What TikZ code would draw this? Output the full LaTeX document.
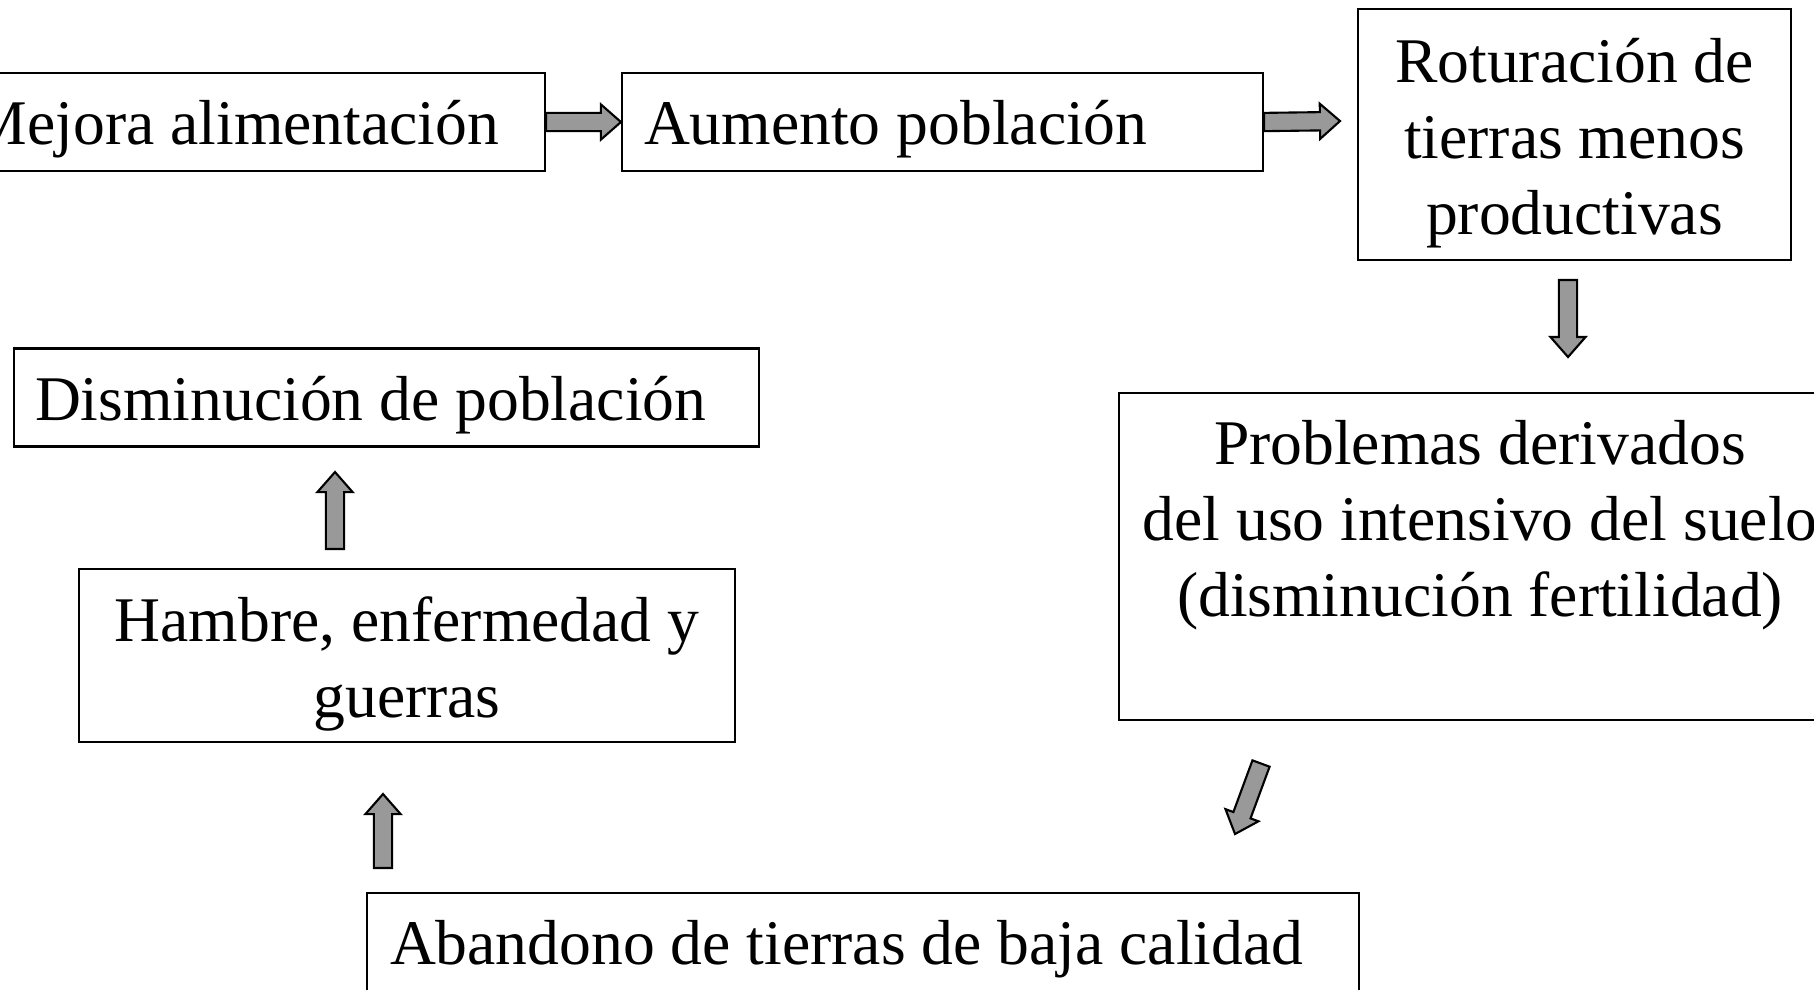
\documentclass[tikz,border=0pt]{standalone}
\usepackage{fontspec}
\setmainfont{Liberation Serif}
\usetikzlibrary{calc}
\definecolor{grisflecha}{RGB}{153,153,153}

\begin{document}
\begin{tikzpicture}[
	caja/.style={draw, line width=0.6pt, inner ysep=0pt, font=\fontsize{18.1}{21.6}\selectfont},
	cajaizq/.style={caja, align=flush left, inner xsep=0.22cm, minimum height=0.98cm, text height=0.6cm, text depth=0.15cm},
	cajacentro/.style={caja, align=center, inner xsep=0.1cm},
	flecha/.style={draw=black, fill=grisflecha, line width=0.6pt, line join=miter,
		to path={let \p1=(\tikztostart), \p2=(\tikztotarget),
			\n1={atan2(\y2-\y1,\x2-\x1)}, \n2={veclen(\x2-\x1,\y2-\y1)-\HL pt} in
			($(\p1)+(\n1+90:\SW pt)$) -- ($(\p1)+(\n1:\n2)+(\n1+90:\SW pt)$)
			-- ($(\p1)+(\n1:\n2)+(\n1+90:\HW pt)$) -- (\p2)
			-- ($(\p1)+(\n1:\n2)+(\n1-90:\HW pt)$) -- ($(\p1)+(\n1:\n2)+(\n1-90:\SW pt)$)
			-- ($(\p1)+(\n1-90:\SW pt)$) -- cycle}}]
				\pgfmathsetmacro\SW{2.6}
				\pgfmathsetmacro\HW{5.0}
				\pgfmathsetmacro\HL{5.7}
				\clip (0,0) rectangle (18.14,-9.89);

				\node[cajaizq, text width=5.52cm] (mejora) at (2.47,-1.22) {Mejora alimentación};
				\node[cajaizq, text width=5.97cm] (aumento) at (9.425,-1.22) {Aumento población};
				\node[cajacentro, minimum width=4.33cm, minimum height=2.51cm] (rot) at (15.745,-1.345)
					{\rule{0pt}{0.62cm}Roturación de\\tierras menos\\productivas};
				\node[cajacentro, minimum width=7.22cm, minimum height=3.27cm] (prob) at (14.80,-5.565)
					{Problemas derivados\\del uso intensivo del suelo\\(disminución fertilidad)\\\mbox{}};
				\node[cajaizq, inner xsep=0.23cm, text width=9.46cm] (aband) at (8.63,-9.42)
					{Abandono de tierras de baja calidad};
				\node[cajacentro, minimum width=6.56cm, minimum height=1.73cm] (hambre) at (4.07,-6.555)
					{\rule{0pt}{0.62cm}Hambre, enfermedad y\\guerras};
				\node[cajaizq, inner xsep=0.21cm, text width=7.03cm] (dismin) at (3.865,-3.975)
					{Disminución de población};

				\coordinate (f2b) at (13.40,-1.21);
				\coordinate (f3a) at (15.68,-2.80);
				\coordinate (f3b) at (15.68,-3.57);
				\coordinate (f4a) at (12.61,-7.635);
				\coordinate (f4b) at (12.35,-8.34);
				\coordinate (f5a) at (3.83,-8.68);
				\coordinate (f5b) at (3.83,-7.94);
				\coordinate (f6a) at (3.35,-5.49);
				\coordinate (f6b) at (3.35,-4.72);

				\draw[flecha] (mejora.east) to (aumento.west);
				\draw[flecha] (aumento.east) to (f2b);
				\draw[flecha] (f3a) to (f3b);
				\draw[flecha] (f4a) to (f4b);
				\draw[flecha] (f5a) to (f5b);
				\draw[flecha] (f6a) to (f6b);
\end{tikzpicture}
\end{document}
